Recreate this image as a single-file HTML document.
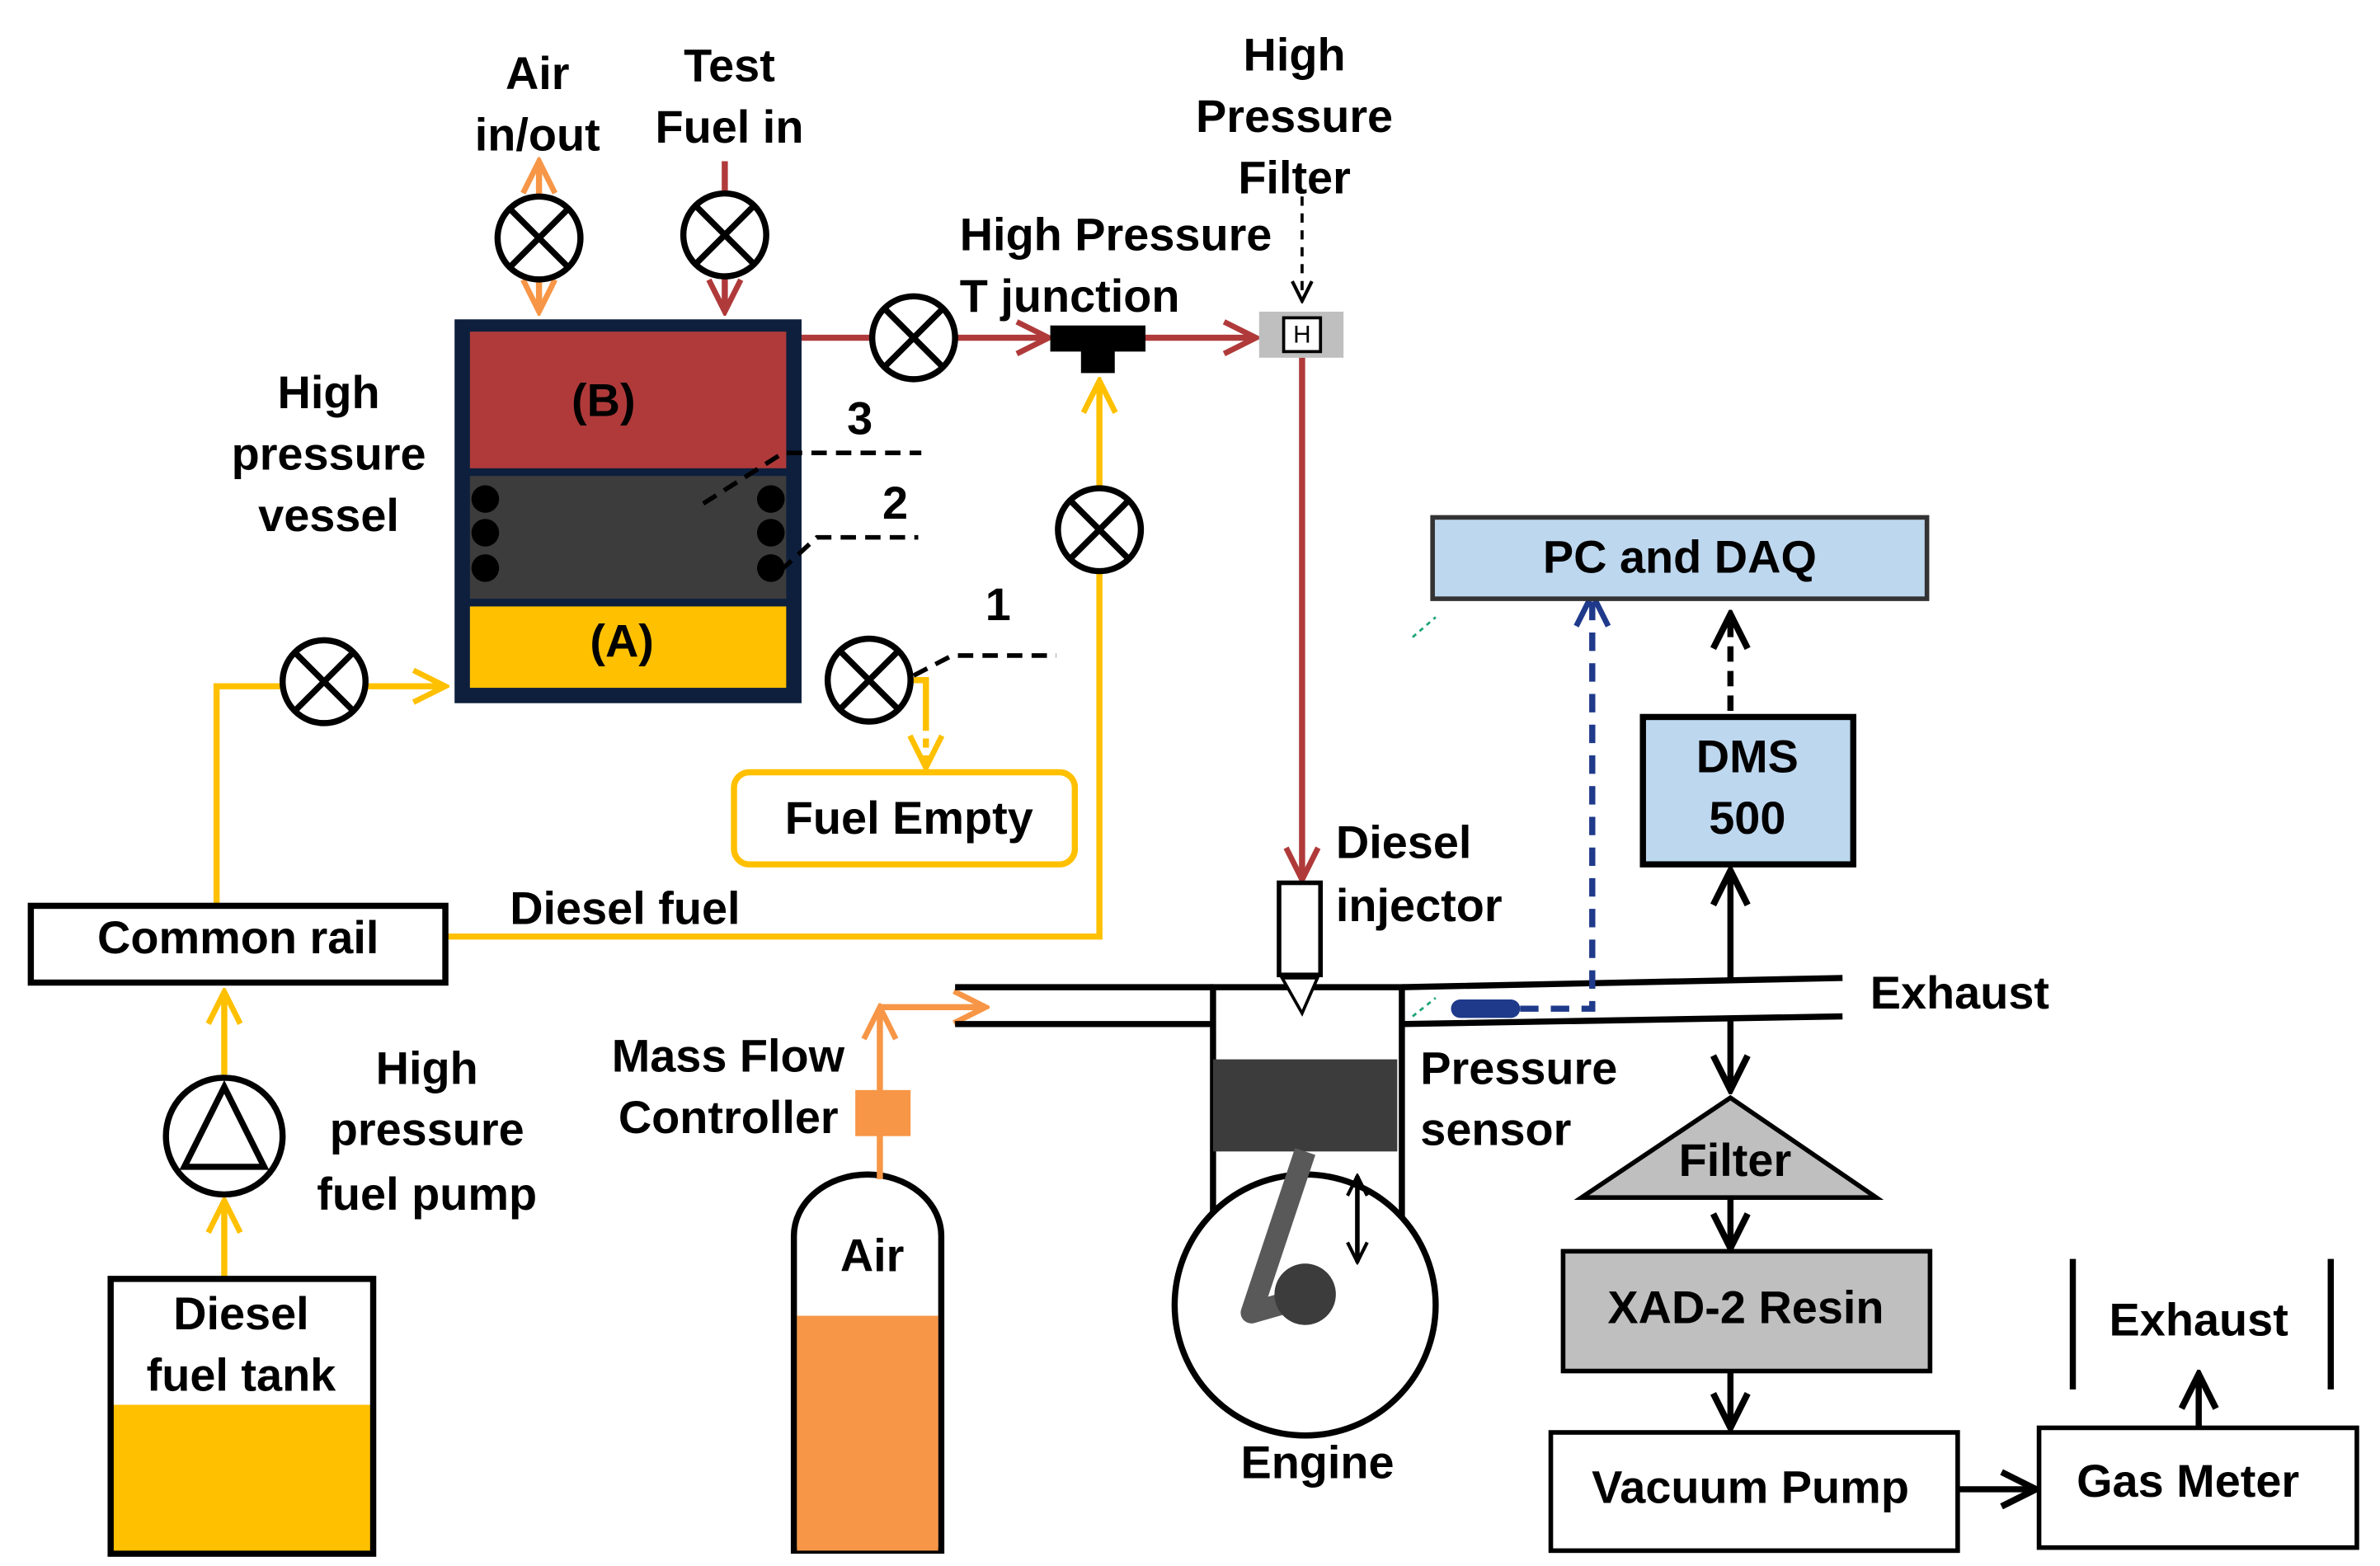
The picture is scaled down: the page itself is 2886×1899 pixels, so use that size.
<!DOCTYPE html>
<html><head><meta charset="utf-8"><style>
html,body{margin:0;padding:0;background:#fff}
svg{display:block}
text{font-family:"Liberation Sans",Arial,sans-serif;font-weight:bold;font-size:30px;fill:#000;dominant-baseline:middle}
</style></head><body>
<svg width="2886" height="1899" viewBox="0 0 1550 1020" xmlns="http://www.w3.org/2000/svg">
<defs>
<marker id="ar" viewBox="0 0 10 10" refX="9" refY="5" markerWidth="26" markerHeight="26" orient="auto-start-reverse" markerUnits="userSpaceOnUse"><path d="M1,1 L9,5 L1,9" fill="none" stroke="#b03a3a" stroke-width="1.4"/></marker>
<marker id="ay" viewBox="0 0 10 10" refX="9" refY="5" markerWidth="26" markerHeight="26" orient="auto-start-reverse" markerUnits="userSpaceOnUse"><path d="M1,1 L9,5 L1,9" fill="none" stroke="#ffc000" stroke-width="1.4"/></marker>
<marker id="ao" viewBox="0 0 10 10" refX="9" refY="5" markerWidth="26" markerHeight="26" orient="auto-start-reverse" markerUnits="userSpaceOnUse"><path d="M1,1 L9,5 L1,9" fill="none" stroke="#f79646" stroke-width="1.4"/></marker>
<marker id="ak" viewBox="0 0 10 10" refX="9" refY="5" markerWidth="28" markerHeight="28" orient="auto-start-reverse" markerUnits="userSpaceOnUse"><path d="M1,1 L9,5 L1,9" fill="none" stroke="#000" stroke-width="1.5"/></marker>
<marker id="ak2" viewBox="0 0 10 10" refX="9" refY="5" markerWidth="16" markerHeight="16" orient="auto-start-reverse" markerUnits="userSpaceOnUse"><path d="M1,1 L9,5 L1,9" fill="none" stroke="#000" stroke-width="1.4"/></marker>
<marker id="an" viewBox="0 0 10 10" refX="9" refY="5" markerWidth="26" markerHeight="26" orient="auto-start-reverse" markerUnits="userSpaceOnUse"><path d="M1,1 L9,5 L1,9" fill="none" stroke="#1f3a8a" stroke-width="1.4"/></marker>
<g id="v"><circle r="27" fill="#fff" stroke="#000" stroke-width="4"/><path d="M-19,-19 L19,19 M19,-19 L-19,19" stroke="#000" stroke-width="4"/></g>
</defs>

<g fill="none" stroke="#ffc000" stroke-width="4">
<path d="M141,590 V447 H290" marker-end="url(#ay)"/>
<path d="M290,610 H716 V248" marker-end="url(#ay)"/>
<path d="M592,443 H603 V470"/>
<path d="M603,470 V500" stroke-dasharray="6,5" marker-end="url(#ay)"/>
</g>
<rect x="478" y="503" width="222" height="60" rx="10" fill="#fff" stroke="#ffc000" stroke-width="4"/>
<text x="592" y="535" text-anchor="middle">Fuel Empty</text>

<g fill="none" stroke="#b03a3a" stroke-width="4">
<path d="M472,105 V203" marker-end="url(#ar)"/>
<path d="M522,220 H683" marker-end="url(#ar)"/>
<path d="M745,220 H818" marker-end="url(#ar)"/>
<path d="M848,233 V573" marker-end="url(#ar)"/>
</g>
<path d="M351,105 V203" fill="none" stroke="#f79646" stroke-width="4" marker-start="url(#ao)" marker-end="url(#ao)"/>

<rect x="296" y="208" width="226" height="250" fill="#0d1f3c"/>
<rect x="306" y="216" width="206" height="89" fill="#b03a3a"/>
<rect x="306" y="310" width="206" height="80" fill="#3c3c3c"/>
<rect x="306" y="395" width="206" height="53" fill="#ffc000"/>
<g fill="#000"><circle cx="316" cy="325" r="9"/><circle cx="316" cy="347" r="9"/><circle cx="316" cy="370" r="9"/><circle cx="502" cy="325" r="9"/><circle cx="502" cy="347" r="9"/><circle cx="502" cy="370" r="9"/></g>
<text x="393" y="263" text-anchor="middle">(B)</text>
<text x="405" y="420" text-anchor="middle">(A)</text>
<g fill="none" stroke="#000" stroke-width="3" stroke-dasharray="10,6">
<path d="M458,328 L510,295 H600"/><path d="M508,372 L532,350 H598"/><path d="M595,440 L620,427 H688"/>
<path d="M848,128 V196" stroke-width="2" stroke-dasharray="6,5" marker-end="url(#ak2)"/>
</g>
<text x="560" y="275" text-anchor="middle">3</text>
<text x="583" y="330" text-anchor="middle">2</text>
<text x="650" y="396" text-anchor="middle">1</text>

<use href="#v" x="351" y="155"/><use href="#v" x="472" y="153"/><use href="#v" x="595" y="220"/>
<use href="#v" x="716" y="345"/><use href="#v" x="211" y="444"/><use href="#v" x="566" y="443"/>

<rect x="684" y="212" width="62" height="17" fill="#000"/><rect x="704" y="225" width="22" height="18" fill="#000"/>
<rect x="820" y="203" width="55" height="30" fill="#bfbfbf"/>
<rect x="836" y="207" width="24" height="22" fill="#fff" stroke="#000" stroke-width="2"/>
<text x="848" y="219" text-anchor="middle" style="font-size:16px;font-weight:normal">H</text>

<text x="350" y="50" text-anchor="middle">Air</text><text x="350" y="90" text-anchor="middle">in/out</text>
<text x="475" y="45" text-anchor="middle">Test</text><text x="475" y="85" text-anchor="middle">Fuel in</text>
<text x="625" y="155">High Pressure</text><text x="625" y="195">T junction</text>
<text x="843" y="38" text-anchor="middle">High</text><text x="843" y="78" text-anchor="middle">Pressure</text><text x="843" y="118" text-anchor="middle">Filter</text>
<text x="214" y="258" text-anchor="middle">High</text><text x="214" y="298" text-anchor="middle">pressure</text><text x="214" y="338" text-anchor="middle">vessel</text>

<rect x="20" y="590" width="270" height="50" fill="#fff" stroke="#000" stroke-width="4"/>
<text x="155" y="613" text-anchor="middle">Common rail</text>
<text x="407" y="594" text-anchor="middle">Diesel fuel</text>
<g fill="none" stroke="#ffc000" stroke-width="4">
<path d="M146,700 V646" marker-end="url(#ay)"/><path d="M146,832 V782" marker-end="url(#ay)"/></g>
<circle cx="146" cy="740" r="38" fill="#fff" stroke="#000" stroke-width="4"/>
<path d="M146,708 L120,760 H172 Z" fill="none" stroke="#000" stroke-width="4"/>
<text x="278" y="698" text-anchor="middle">High</text><text x="278" y="738" text-anchor="middle">pressure</text><text x="278" y="780" text-anchor="middle">fuel pump</text>
<rect x="72" y="915" width="171" height="97" fill="#ffc000"/>
<rect x="72" y="833" width="171" height="179" fill="none" stroke="#000" stroke-width="4"/>
<text x="157" y="858" text-anchor="middle">Diesel</text><text x="157" y="898" text-anchor="middle">fuel tank</text>

<path d="M517,1010 V805 A48,40 0 0 1 613,805 V1010 Z" fill="#fff" stroke="#000" stroke-width="4"/>
<rect x="519" y="857" width="92" height="153" fill="#f79646"/>
<text x="568" y="820" text-anchor="middle">Air</text>
<g fill="none" stroke="#f79646" stroke-width="4"><path d="M573,768 V656" marker-end="url(#ao)"/><path d="M573,656 H642" marker-end="url(#ao)"/></g>
<rect x="557" y="710" width="36" height="30" fill="#f79646"/>
<text x="550" y="690" text-anchor="end">Mass Flow</text><text x="546" y="730" text-anchor="end">Controller</text>

<g stroke="#000" stroke-width="4" fill="none">
<path d="M622,643 H790 M622,667 H790"/>
<path d="M913,643 L1200,637 M913,667 L1200,662"/>
<rect x="790" y="643" width="123" height="152" fill="#fff"/>
<circle cx="850" cy="850" r="85" fill="#fff"/>
</g>
<rect x="790" y="690" width="120" height="60" fill="#3c3c3c"/>
<path d="M850,750 L815,855 L850,845" fill="none" stroke="#595959" stroke-width="14" stroke-linejoin="round"/>
<circle cx="850" cy="843" r="20" fill="#3c3c3c"/>
<path d="M884,766 V822" stroke="#000" stroke-width="3" marker-start="url(#ak2)" marker-end="url(#ak2)"/>
<rect x="833" y="575" width="27" height="60" fill="#fff" stroke="#000" stroke-width="3"/>
<path d="M835,637 L848,660 L858,637 Z" fill="#fff" stroke="#000" stroke-width="2"/>
<text x="870" y="551">Diesel</text><text x="870" y="592">injector</text>
<text x="1218" y="649">Exhaust</text>
<text x="925" y="698">Pressure</text><text x="925" y="738">sensor</text>
<text x="858" y="955" text-anchor="middle">Engine</text>
<rect x="945" y="651" width="45" height="12" rx="6" fill="#1f3a8a"/>
<path d="M990,657 H1037 V387" fill="none" stroke="#1f3a8a" stroke-width="4" stroke-dasharray="12,8" marker-end="url(#an)"/>
<path d="M920,415 L935,402 M920,662 L935,650" stroke="#1ea57a" stroke-width="1.5" stroke-dasharray="3,3"/>

<rect x="933" y="337" width="322" height="53" fill="#bdd7ee" stroke="#333" stroke-width="3"/>
<text x="1094" y="365" text-anchor="middle">PC and DAQ</text>
<rect x="1070" y="467" width="137" height="96" fill="#bdd7ee" stroke="#000" stroke-width="4"/>
<text x="1138" y="495" text-anchor="middle">DMS</text><text x="1138" y="535" text-anchor="middle">500</text>
<path d="M1127,463 V400" stroke="#000" stroke-width="4" fill="none" stroke-dasharray="10,6" marker-end="url(#ak)"/>
<path d="M1127,640 V567" stroke="#000" stroke-width="4" fill="none" marker-end="url(#ak)"/>
<path d="M1127,662 V710" stroke="#000" stroke-width="4" fill="none" marker-end="url(#ak)"/>
<path d="M1127,715 L1222,780 H1030 Z" fill="#bfbfbf" stroke="#000" stroke-width="3"/>
<text x="1130" y="758" text-anchor="middle">Filter</text>
<path d="M1127,780 V813" stroke="#000" stroke-width="4" marker-end="url(#ak)"/>
<rect x="1018" y="815" width="239" height="78" fill="#bfbfbf" stroke="#000" stroke-width="3"/>
<text x="1137" y="854" text-anchor="middle">XAD-2 Resin</text>
<path d="M1127,893 V930" stroke="#000" stroke-width="4" marker-end="url(#ak)"/>
<rect x="1010" y="933" width="265" height="77" fill="#fff" stroke="#000" stroke-width="3"/>
<text x="1140" y="971" text-anchor="middle">Vacuum Pump</text>
<path d="M1275,970 H1326" stroke="#000" stroke-width="4" marker-end="url(#ak)"/>
<rect x="1328" y="930" width="207" height="78" fill="#fff" stroke="#000" stroke-width="3"/>
<text x="1425" y="967" text-anchor="middle">Gas Meter</text>
<path d="M1432,930 V895" stroke="#000" stroke-width="4" marker-end="url(#ak)"/>
<path d="M1350,820 V905 M1518,820 V905" stroke="#000" stroke-width="4"/>
<text x="1432" y="862" text-anchor="middle">Exhaust</text>
</svg>
</body></html>
